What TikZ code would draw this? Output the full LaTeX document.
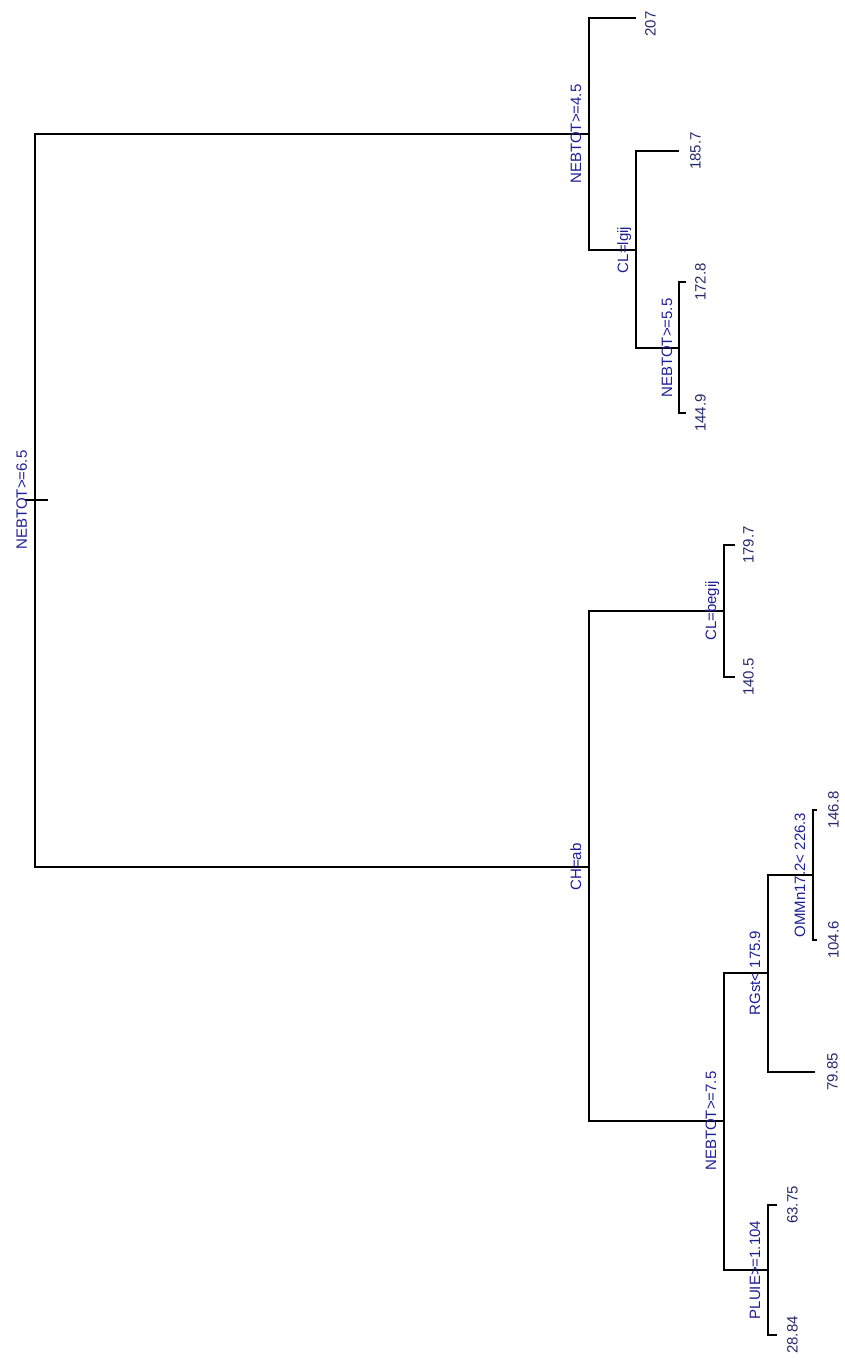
\documentclass[tikz,border=0pt]{standalone}
\usepackage{fontspec}
\setmainfont{Liberation Sans}
\definecolor{splitblue}{RGB}{30,30,150}
\definecolor{leafblue}{RGB}{40,40,110}
\begin{document}
\begin{tikzpicture}[x=1pt,y=-1pt,
  branch/.style={line width=1.6pt,black},
  splitlabel/.style={rotate=90,anchor=base,inner sep=0pt,text=splitblue,font=\fontsize{15}{15}\selectfont},
  leaflabel/.style={rotate=90,anchor=north,inner sep=0pt,text=leafblue,font=\fontsize{15}{15}\selectfont}]
\useasboundingbox (0,0) rectangle (845,1360);
% junctions
\coordinate (root) at (35,500);
\coordinate (n45) at (589,134);
\coordinate (chab) at (589,867);
\coordinate (l207) at (636,18);
\coordinate (lgij) at (636,250);
\coordinate (l1857) at (679,151);
\coordinate (n55) at (679,348);
\coordinate (l1728) at (686,282);
\coordinate (l1449) at (686,413);
\coordinate (begij) at (724,611);
\coordinate (l1797) at (735,545);
\coordinate (l1405) at (735,677);
\coordinate (n75) at (724,1121);
\coordinate (rg) at (768,973);
\coordinate (omm) at (813,875);
\coordinate (l1468) at (817,810);
\coordinate (l1046) at (817,940);
\coordinate (l7985) at (815,1072);
\coordinate (pluie) at (768,1270);
\coordinate (l6375) at (777,1205);
\coordinate (l2884) at (777,1335);
\coordinate (tickL) at (25,500);
\coordinate (tickR) at (48,500);
% branches
\draw[branch] (tickL) -- (tickR);
\draw[branch] (root) |- (n45);
\draw[branch] (root) |- (chab);
\draw[branch] (n45) |- (l207);
\draw[branch] (n45) |- (lgij);
\draw[branch] (lgij) |- (l1857);
\draw[branch] (lgij) |- (n55);
\draw[branch] (n55) |- (l1728);
\draw[branch] (n55) |- (l1449);
\draw[branch] (chab) |- (begij);
\draw[branch] (chab) |- (n75);
\draw[branch] (begij) |- (l1797);
\draw[branch] (begij) |- (l1405);
\draw[branch] (n75) |- (rg);
\draw[branch] (n75) |- (pluie);
\draw[branch] (rg) |- (omm);
\draw[branch] (rg) |- (l7985);
\draw[branch] (omm) |- (l1468);
\draw[branch] (omm) |- (l1046);
\draw[branch] (pluie) |- (l6375);
\draw[branch] (pluie) |- (l2884);
% split labels
\node[splitlabel] (troot) at ([xshift=-8pt]root) {NEBTOT>=6.5};
\node[splitlabel] (tn45) at ([xshift=-8pt]n45) {NEBTOT>=4.5};
\node[splitlabel] (tlgij) at ([xshift=-8pt]lgij) {CL=lgij};
\node[splitlabel] (tn55) at ([xshift=-7pt]n55) {NEBTOT>=5.5};
\node[splitlabel] (tchab) at ([xshift=-8pt]chab) {CH=ab};
\node[splitlabel] (tbegij) at ([xshift=-8pt]begij) {CL=begij};
\node[splitlabel] (tn75) at ([xshift=-8pt]n75) {NEBTOT>=7.5};
\node[splitlabel] (trg) at ([xshift=-8pt]rg) {RGst< 175.9};
\node[splitlabel] (tomm) at ([xshift=-8pt]omm) {OMMn17.2< 226.3};
\node[splitlabel] (tpluie) at ([xshift=-8pt]pluie) {PLUIE>=1.104};
% leaf labels
\node[leaflabel] (v207) at ([xshift=9pt,yshift=-6pt]l207) {207};
\node[leaflabel] (v1857) at ([xshift=11pt]l1857) {185.7};
\node[leaflabel] (v1728) at ([xshift=9pt]l1728) {172.8};
\node[leaflabel] (v1449) at ([xshift=9pt]l1449) {144.9};
\node[leaflabel] (v1797) at ([xshift=8pt]l1797) {179.7};
\node[leaflabel] (v1405) at ([xshift=8pt]l1405) {140.5};
\node[leaflabel] (v1468) at ([xshift=11pt]l1468) {146.8};
\node[leaflabel] (v1046) at ([xshift=11pt]l1046) {104.6};
\node[leaflabel] (v7985) at ([xshift=12pt]l7985) {79.85};
\node[leaflabel] (v6375) at ([xshift=10pt]l6375) {63.75};
\node[leaflabel] (v2884) at ([xshift=10pt]l2884) {28.84};
\end{tikzpicture}
\end{document}
